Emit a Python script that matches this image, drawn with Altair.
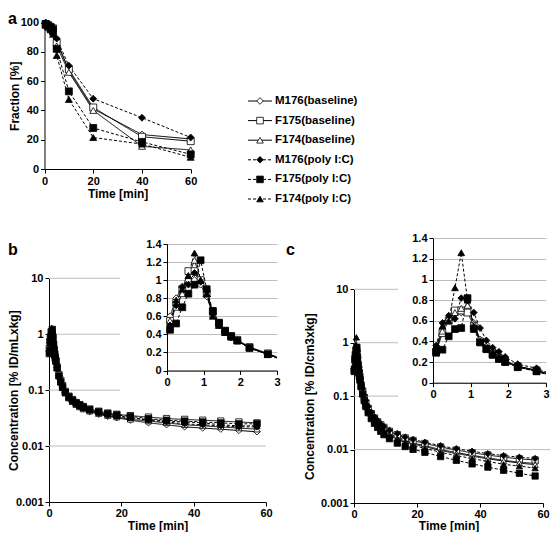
import altair as alt
import pandas as pd

SERIES = ["M176(baseline)", "F175(baseline)", "F174(baseline)",
          "M176(poly I:C)", "F175(poly I:C)", "F174(poly I:C)"]
SHAPES = ["diamond", "square", "triangle-up", "diamond", "square", "triangle-up"]
FILLS = ["white", "white", "white", "black", "black", "black"]
DASHES = [[1, 0], [1, 0], [1, 0], [3, 2], [3, 2], [3, 2]]

# ---------------- panel a ----------------
TIME_A = [0.5, 1.5, 2.5, 3.5, 5, 10, 20, 40, 60]
FRAC_M176_BASE = [99, 98, 97, 95, 88, 67, 41, 23.5, 20.5]
FRAC_F175_BASE = [99, 98, 97, 96, 86, 68, 42, 22, 19]
FRAC_F174_BASE = [99, 97, 96, 94, 84, 66, 40, 15.5, 13]
FRAC_M176_POLY = [100, 99, 98, 97, 89, 70.5, 48, 35, 21.5]
FRAC_F175_POLY = [99, 98, 96, 94, 82, 53, 28, 18.5, 10]
FRAC_F174_POLY = [98, 97, 95, 92, 77.5, 47.5, 21.5, 17, 8]

# ---------------- panels b, c ----------------
TIME_BC = [0.083, 0.25, 0.417, 0.583, 0.75, 0.917, 1.083, 1.25, 1.417, 1.583, 1.75, 1.917,
           2.25, 2.75, 3.25, 3.75, 4.5, 5.5, 6.5, 7.5, 8.5, 9.5, 11.25, 13.75, 16.25, 18.75,
           22.5, 27.5, 32.5, 37.5, 42.5, 47.5, 52.5, 57.5]

CONC_B_M176_BASE = [0.60, 0.80, 0.93, 1.00, 1.00, 0.95, 0.82, 0.62, 0.50, 0.43, 0.37, 0.33, 0.25, 0.18, 0.14, 0.115, 0.090, 0.072, 0.062, 0.055, 0.050, 0.046, 0.041, 0.037, 0.034, 0.032, 0.029, 0.026, 0.024, 0.022, 0.021, 0.020, 0.019, 0.018]
CONC_B_F175_BASE = [0.55, 0.75, 0.90, 1.10, 1.10, 1.00, 0.85, 0.65, 0.52, 0.44, 0.38, 0.34, 0.26, 0.19, 0.15, 0.12, 0.095, 0.078, 0.068, 0.060, 0.055, 0.051, 0.046, 0.042, 0.039, 0.037, 0.035, 0.033, 0.031, 0.030, 0.029, 0.028, 0.027, 0.026]
CONC_B_F174_BASE = [0.55, 0.70, 0.85, 1.05, 1.22, 1.00, 0.85, 0.62, 0.50, 0.42, 0.37, 0.33, 0.25, 0.18, 0.14, 0.11, 0.088, 0.072, 0.062, 0.055, 0.050, 0.046, 0.042, 0.038, 0.035, 0.033, 0.030, 0.028, 0.026, 0.024, 0.023, 0.022, 0.021, 0.020]
CONC_B_M176_POLY = [0.50, 0.72, 0.92, 0.95, 1.08, 0.98, 0.90, 0.63, 0.50, 0.43, 0.37, 0.33, 0.25, 0.18, 0.14, 0.115, 0.090, 0.074, 0.064, 0.057, 0.052, 0.048, 0.043, 0.039, 0.036, 0.034, 0.032, 0.029, 0.027, 0.025, 0.024, 0.023, 0.022, 0.022]
CONC_B_F175_POLY = [0.45, 0.52, 0.70, 0.85, 0.95, 1.22, 0.90, 0.66, 0.53, 0.44, 0.38, 0.33, 0.25, 0.18, 0.14, 0.115, 0.092, 0.076, 0.066, 0.059, 0.054, 0.050, 0.045, 0.041, 0.038, 0.036, 0.034, 0.031, 0.029, 0.028, 0.027, 0.026, 0.025, 0.025]
CONC_B_F174_POLY = [0.48, 0.78, 0.90, 1.05, 1.30, 1.00, 0.85, 0.60, 0.50, 0.42, 0.37, 0.33, 0.25, 0.18, 0.14, 0.112, 0.090, 0.074, 0.064, 0.057, 0.052, 0.048, 0.044, 0.040, 0.037, 0.035, 0.032, 0.030, 0.028, 0.027, 0.026, 0.024, 0.023, 0.023]

CONC_C_M176_BASE = [0.33, 0.52, 0.62, 0.66, 0.68, 0.72, 0.58, 0.42, 0.35, 0.29, 0.25, 0.21, 0.16, 0.12, 0.092, 0.073, 0.057, 0.045, 0.037, 0.031, 0.027, 0.024, 0.020, 0.017, 0.0148, 0.0132, 0.0118, 0.0100, 0.0088, 0.0078, 0.0070, 0.0063, 0.0058, 0.0055]
CONC_C_F175_BASE = [0.30, 0.48, 0.60, 0.70, 0.70, 0.68, 0.55, 0.40, 0.33, 0.28, 0.24, 0.21, 0.16, 0.12, 0.094, 0.075, 0.059, 0.047, 0.039, 0.033, 0.029, 0.026, 0.022, 0.019, 0.0165, 0.0148, 0.0130, 0.0112, 0.0098, 0.0087, 0.0079, 0.0072, 0.0067, 0.0064]
CONC_C_F174_BASE = [0.32, 0.50, 0.63, 0.68, 0.72, 0.75, 0.57, 0.40, 0.33, 0.28, 0.24, 0.20, 0.155, 0.115, 0.088, 0.070, 0.055, 0.043, 0.035, 0.030, 0.026, 0.023, 0.019, 0.0162, 0.0142, 0.0127, 0.0113, 0.0096, 0.0084, 0.0075, 0.0067, 0.0061, 0.0056, 0.0052]
CONC_C_M176_POLY = [0.36, 0.58, 0.65, 0.62, 0.82, 0.80, 0.68, 0.53, 0.41, 0.34, 0.30, 0.25, 0.18, 0.14, 0.105, 0.082, 0.064, 0.050, 0.041, 0.035, 0.030, 0.027, 0.023, 0.020, 0.0172, 0.0155, 0.0137, 0.0118, 0.0104, 0.0093, 0.0084, 0.0077, 0.0072, 0.0068]
CONC_C_F175_POLY = [0.29, 0.32, 0.45, 0.52, 0.53, 0.82, 0.52, 0.39, 0.33, 0.27, 0.23, 0.20, 0.15, 0.11, 0.082, 0.064, 0.049, 0.038, 0.031, 0.026, 0.022, 0.019, 0.016, 0.0132, 0.0114, 0.0101, 0.0089, 0.0074, 0.0063, 0.0054, 0.0047, 0.0041, 0.0036, 0.0032]
CONC_C_F174_POLY = [0.35, 0.55, 0.60, 0.92, 1.26, 0.80, 0.55, 0.40, 0.32, 0.27, 0.23, 0.20, 0.15, 0.11, 0.084, 0.067, 0.052, 0.041, 0.034, 0.029, 0.025, 0.022, 0.018, 0.0155, 0.0135, 0.0120, 0.0105, 0.0089, 0.0077, 0.0068, 0.0060, 0.0053, 0.0049, 0.0045]

TICKS_A_X = [0, 20, 40, 60]
TICKS_A_Y = [0, 20, 40, 60, 80, 100]
TICKS_LOG = [0.001, 0.01, 0.1, 1, 10]
GRID_SHORT = [10, 1, 0.1]
GRID_LONG = [0.01]
TICKS_IN_X = [0, 1, 2, 3]
TICKS_IN_Y = [0, 0.2, 0.4, 0.6, 0.8, 1, 1.2, 1.4]


def long_df(times, cols):
    rows = []
    for s, vals in zip(SERIES, cols):
        for t, v in zip(times, vals):
            rows.append({"s": s, "t": t, "v": v})
    return pd.DataFrame(rows)


df_a = long_df(TIME_A, [FRAC_M176_BASE, FRAC_F175_BASE, FRAC_F174_BASE,
                        FRAC_M176_POLY, FRAC_F175_POLY, FRAC_F174_POLY])
df_b = long_df(TIME_BC, [CONC_B_M176_BASE, CONC_B_F175_BASE, CONC_B_F174_BASE,
                         CONC_B_M176_POLY, CONC_B_F175_POLY, CONC_B_F174_POLY])
df_c = long_df(TIME_BC, [CONC_C_M176_BASE, CONC_C_F175_BASE, CONC_C_F174_BASE,
                         CONC_C_M176_POLY, CONC_C_F175_POLY, CONC_C_F174_POLY])
df_bi = df_b[df_b.t <= 3.3]
df_ci = df_c[df_c.t <= 3.3]

# ---------------- layout (pixels inside the 542 x 524 view) ----------------
W, H = 542, 524
XA, YA = [36.5, 182.7], [161, 14.5]
XB, YB = [41, 258], [494, 270.3]
XBI, YBI = [159, 269], [362.5, 236]
XC, YC = [346, 535], [495, 281.3]
XCI, YCI = [425, 538], [374.7, 230.3]
GRID_END_B, GRID_END_C = 112, 390
TITLE_BASE = 521

FONT = "Liberation Sans"
AX = dict(labelFont=FONT, labelFontSize=11, labelFontWeight="bold", labelColor="black",
          labelFlush=False, labelOverlap=False, labelPadding=2,
          domainColor="black", tickColor="black", tickSize=4,
          titleFont=FONT, titleFontSize=12, titleFontWeight="bold", titleColor="black",
          gridColor="#bdbdbd", format=".6~r")

shape_enc = alt.Shape("s:N", scale=alt.Scale(domain=SERIES, range=SHAPES), legend=None)
fill_enc = alt.Fill("s:N", scale=alt.Scale(domain=SERIES, range=FILLS), legend=None)
dash_enc = alt.StrokeDash("s:N", scale=alt.Scale(domain=SERIES, range=DASHES), legend=None)


def xaxis(yr, values, title, **kw):
    opts = dict(AX)
    opts.update(kw)
    return alt.Axis(orient="bottom", offset=yr[0] - H, values=values, title=title,
                    grid=False, **opts)


def yaxis(xr, values, title, grid=False, **kw):
    opts = dict(AX)
    opts.update(kw)
    return alt.Axis(orient="left", offset=-xr[0], values=values, title=title,
                    grid=grid, **opts)


def panel(df, xscale, yscale, xax, yax, size, point_filter=None):
    base = alt.Chart(df).encode(
        x=alt.X("t:Q", scale=xscale, axis=xax),
        y=alt.Y("v:Q", scale=yscale, axis=yax))
    lines = base.mark_line(color="black", strokeWidth=1).encode(strokeDash=dash_enc)
    pts = base.transform_filter(point_filter) if point_filter else base
    points = pts.mark_point(filled=True, stroke="black", strokeWidth=0.8, size=size,
                            opacity=1).encode(shape=shape_enc, fill=fill_enc)
    return alt.layer(lines, points)


def log_scale(yr):
    return alt.Scale(type="log", domain=[0.001, 10], range=yr, nice=False)


def grid_rules(values, yr, x0, x1):
    return alt.Chart(pd.DataFrame({"g": values})).mark_rule(
        color="#bdbdbd", strokeWidth=1).encode(
        y=alt.Y("g:Q", scale=log_scale(yr), axis=None), x=alt.value(x0), x2=alt.value(x1))


# panel a
sxa = alt.Scale(domain=[0, 60], range=XA, nice=False, zero=False)
sya = alt.Scale(domain=[0, 100], range=YA, nice=False)
pa = panel(df_a, sxa, sya, xaxis(YA, TICKS_A_X, "Time [min]", titlePadding=2),
           yaxis(XA, TICKS_A_Y, "Fraction [%]", titleX=-23.5), 48)

# panel b
sxb = alt.Scale(domain=[0, 60], range=XB, nice=False, zero=False)
pb = panel(df_b, sxb, log_scale(YB),
           xaxis(YB, TICKS_A_X, "Time [min]", titleBaseline="alphabetic",
                 titleY=TITLE_BASE - YB[0], labelPadding=1),
           yaxis(XB, TICKS_LOG, "Concentration [% ID/mLxkg]", titleX=12 - XB[0]), 40)

sxbi = alt.Scale(domain=[0, 3], range=XBI, nice=False, zero=False, clamp=True)
sybi = alt.Scale(domain=[0, 1.4], range=YBI, nice=False)
pbi = panel(df_bi, sxbi, sybi, xaxis(YBI, TICKS_IN_X, None),
            yaxis(XBI, TICKS_IN_Y, None, grid=True), 46, point_filter="datum.t <= 3")

# panel c
sxc = alt.Scale(domain=[0, 60], range=XC, nice=False, zero=False)
pc = panel(df_c, sxc, log_scale(YC),
           xaxis(YC, TICKS_A_X, "Time [min]", titleBaseline="alphabetic",
                 titleY=TITLE_BASE - YC[0], labelPadding=1),
           yaxis(XC, TICKS_LOG, "Concentration [% ID/cm3xkg]", titlePadding=4), 40)

sxci = alt.Scale(domain=[0, 3], range=XCI, nice=False, zero=False, clamp=True)
syci = alt.Scale(domain=[0, 1.4], range=YCI, nice=False)
pci = panel(df_ci, sxci, syci, xaxis(YCI, TICKS_IN_X, None),
            yaxis(XCI, TICKS_IN_Y, None, grid=True), 46, point_filter="datum.t <= 3")

# legend (drawn through its own row scale)
leg_df = pd.DataFrame({"s": SERIES, "i": list(range(len(SERIES)))})
ly = alt.Y("i:Q", scale=alt.Scale(domain=[0, 5], range=[93, 191], nice=False, zero=False), axis=None)
leg_base = alt.Chart(leg_df).encode(y=ly)
leg = alt.layer(
    leg_base.mark_rule(color="black", strokeWidth=1).encode(
        x=alt.value(240), x2=alt.value(264), strokeDash=dash_enc),
    leg_base.mark_point(filled=True, stroke="black", strokeWidth=0.8, size=44, opacity=1).encode(
        x=alt.value(252), shape=shape_enc, fill=fill_enc),
    leg_base.mark_text(align="left", baseline="middle", font=FONT, fontSize=11.5,
                       fontWeight="bold", color="black").encode(x=alt.value(267), text="s:N"),
)


def letter(txt, x, y):
    return alt.Chart(pd.DataFrame({"l": [txt]})).mark_text(
        align="left", baseline="alphabetic", font=FONT, fontSize=16, fontWeight="bold",
        color="black").encode(text="l:N", x=alt.value(x), y=alt.value(y))


chart = alt.layer(
    grid_rules(GRID_SHORT, YB, XB[0], GRID_END_B), grid_rules(GRID_LONG, YB, XB[0], XB[1]),
    grid_rules(GRID_SHORT, YC, XC[0], GRID_END_C), grid_rules(GRID_LONG, YC, XC[0], W),
    pa, pb, pbi, pc, pci, leg,
    letter("a", 0, 16), letter("b", 0, 247), letter("c", 278, 247),
).resolve_scale(x="independent", y="independent").properties(
    width=W, height=H, autosize=alt.AutoSizeParams(type="none"), padding=0
).configure_view(strokeWidth=0)

chart.save("out.html", embed_options={"renderer": "svg", "actions": False})
